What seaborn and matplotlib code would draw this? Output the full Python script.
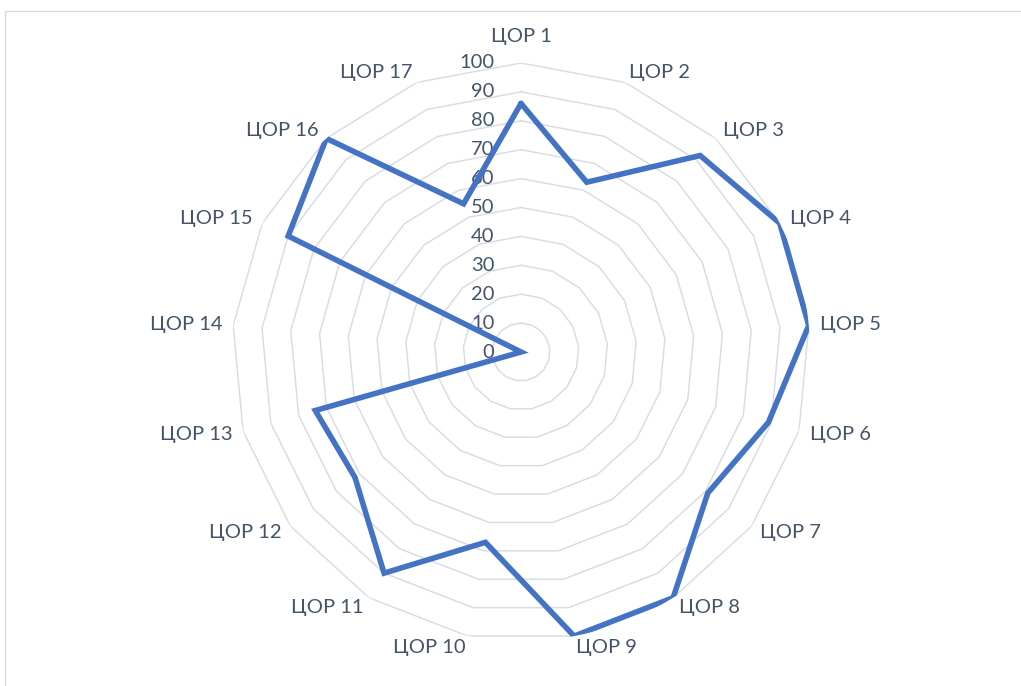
import numpy as np
import pandas as pd
import matplotlib
matplotlib.use("Agg")
import matplotlib.pyplot as plt
import seaborn as sns
from matplotlib.patches import Rectangle

# data
categories = [f"ЦОР {i}" for i in range(1, 18)]
values = [86, 63, 92, 100, 100, 89, 81, 100, 100, 67, 90, 72, 74, 0, 90, 100, 55]
ring_levels = [0, 10, 20, 30, 40, 50, 60, 70, 80, 90, 100]
ring_labels = [str(v) for v in ring_levels]

sns.set_style("white")
plt.rcParams["font.family"] = ["Lato", "DejaVu Sans"]

TEXT = "#44546A"
GRID = "#D9DDE3"
LINE = "#4472C4"

W, H = 1021, 686
fig = plt.figure(figsize=(W / 100, H / 100), dpi=100)

# outer chart frame
fig.patches.append(Rectangle((5 / W, -0.05), 1.2, 1 - 11 / H + 0.05, transform=fig.transFigure,
                             fill=False, edgecolor="#D9D9D9", linewidth=1))

cx, cy, R = 521, 352, 289
ax = fig.add_axes([(cx - R) / W, (H - cy - R) / H, 2 * R / W, 2 * R / H], projection="polar")
ax.set_theta_zero_location("N")
ax.set_theta_direction(-1)
ax.set_ylim(0, 100)
ax.grid(False)
ax.set_xticks([])
ax.set_yticks([])
ax.spines["polar"].set_visible(False)
ax.patch.set_alpha(0)

n = len(categories)
theta = np.linspace(0, 2 * np.pi, n, endpoint=False)
theta_closed = np.append(theta, theta[0])

# polygon rings
for lvl in ring_levels[1:]:
    ax.plot(theta_closed, [lvl] * (n + 1), color=GRID, linewidth=1.1, zorder=1)

df = pd.DataFrame({"theta": theta_closed, "value": values + values[:1]})
sns.lineplot(data=df, x="theta", y="value", sort=False, ax=ax, color=LINE,
             linewidth=4.0, zorder=3, estimator=None, solid_joinstyle="miter")
ax.set_xlabel("")
ax.set_ylabel("")

# category labels, vertically centred like Excel does
for ang, lab in zip(theta, categories):
    s, c = np.sin(ang), np.cos(ang)
    ha = "left" if s > 0.1 else ("right" if s < -0.1 else "center")
    pad = 8 if abs(s) > 0.1 else 19
    ax.annotate(lab, xy=(ang, 100), xytext=(pad * s, pad * c), textcoords="offset points",
                ha=ha, va="center", fontsize=14.5, color=TEXT)

# radial value labels
for lvl, lab in zip(ring_levels, ring_labels):
    ax.annotate(lab, xy=(0, lvl), xytext=(-19, 0), textcoords="offset points",
                ha="right", va="center", fontsize=14.5, color=TEXT, zorder=2)

fig.savefig("out.png", dpi=100)
